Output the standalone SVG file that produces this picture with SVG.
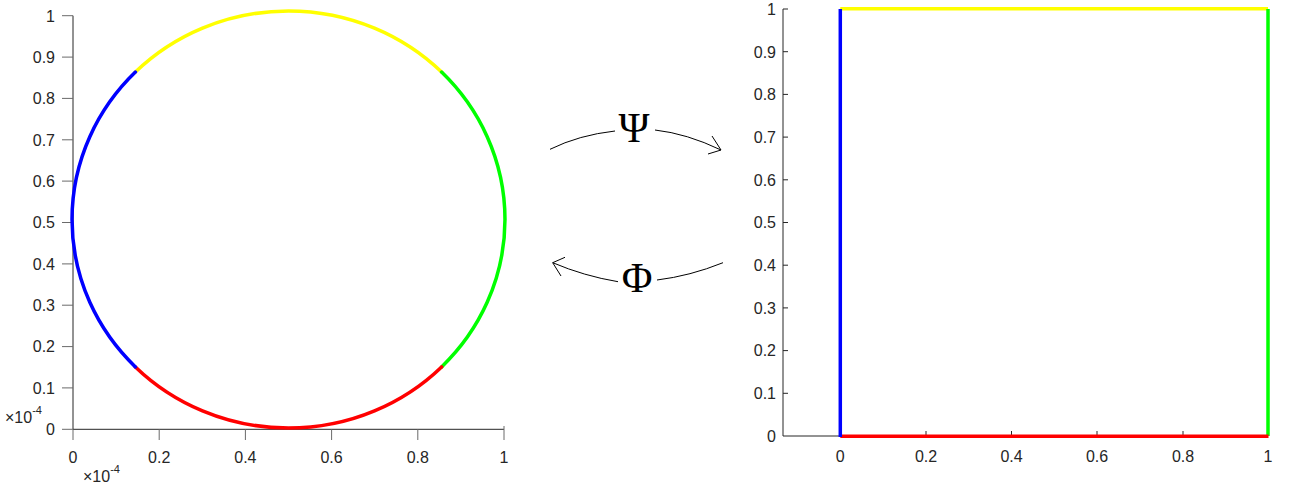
<svg xmlns="http://www.w3.org/2000/svg" width="1291" height="497" viewBox="0 0 1291 497">
<style>
.bg{fill:#ffffff}
.tl{font-family:"Liberation Sans",Arial,sans-serif;font-size:16px;fill:#262626}
.yl{text-anchor:end}
.xl{text-anchor:middle}
.sup{font-size:11px}
.axis{stroke:#262626;stroke-width:1;fill:none}
.tick{stroke:#6a6a6a;stroke-width:1;fill:none}
.rtick{stroke:#262626;stroke-width:1;fill:none}
.curve{fill:none;stroke-width:3.5;stroke-linecap:round}
.edge{fill:none;stroke-width:3.5;stroke-linecap:butt}
.conn{fill:none;stroke:#000;stroke-width:1}
.greek{font-family:"Liberation Serif","Times New Roman",serif;font-size:42px;fill:#000;text-anchor:middle}
</style>
<rect class="bg" x="0" y="0" width="1291" height="497"/>

<g id="left-axes">
  <path class="axis" d="M73,15.7 V429.3 H504"/>
  <path class="tick" d="M62,15.7H73 M62,57.1H73 M62,98.4H73 M62,139.8H73 M62,181.1H73 M62,222.5H73 M62,263.9H73 M62,305.2H73 M62,346.6H73 M62,387.9H73 M62,429.3H73"/>
  <path class="tick" d="M73,429.3V440 M159.2,429.3V440 M245.4,429.3V440 M331.6,429.3V440 M417.8,429.3V440 M504,426V440"/>
  <g class="tl yl">
    <text x="55" y="21.5">1</text>
    <text x="55" y="62.9">0.9</text>
    <text x="55" y="104.2">0.8</text>
    <text x="55" y="145.6">0.7</text>
    <text x="55" y="186.9">0.6</text>
    <text x="55" y="228.3">0.5</text>
    <text x="55" y="269.7">0.4</text>
    <text x="55" y="311">0.3</text>
    <text x="55" y="352.4">0.2</text>
    <text x="55" y="393.7">0.1</text>
    <text x="55" y="435.1">0</text>
  </g>
  <g class="tl xl">
    <text x="73" y="463">0</text>
    <text x="159.2" y="463">0.2</text>
    <text x="245.4" y="463">0.4</text>
    <text x="331.6" y="463">0.6</text>
    <text x="417.8" y="463">0.8</text>
    <text x="504" y="463">1</text>
  </g>
  <text class="tl" x="5" y="423">×10<tspan class="sup" dy="-9">-4</tspan></text>
  <text class="tl" x="83" y="482">×10<tspan class="sup" dy="-9">-4</tspan></text>
</g>

<g id="left-circle">
  <path class="curve" stroke="#ffff00" d="M135.4,72.1 A216.5,208.5 0 0 1 441.6,72.1"/>
  <path class="curve" stroke="#00ff00" d="M441.6,72.1 A216.5,208.5 0 0 1 441.6,366.9"/>
  <path class="curve" stroke="#ff0000" d="M441.6,366.9 A216.5,208.5 0 0 1 135.4,366.9"/>
  <path class="curve" stroke="#0000ff" d="M135.4,366.9 A216.5,208.5 0 0 1 135.4,72.1"/>
</g>

<g id="right-axes">
  <path class="axis" d="M783,9 V436 H1268"/>
  <path class="rtick" d="M783,9H788 M783,51.7H788 M783,94.4H788 M783,137.1H788 M783,179.8H788 M783,222.5H788 M783,265.2H788 M783,307.9H788 M783,350.6H788 M783,393.3H788"/>
  <path class="rtick" d="M926,436V431 M1011.5,436V431 M1097,436V431 M1183,436V431"/>
  <g class="tl yl">
    <text x="776" y="14.8">1</text>
    <text x="776" y="57.5">0.9</text>
    <text x="776" y="100.2">0.8</text>
    <text x="776" y="142.9">0.7</text>
    <text x="776" y="185.6">0.6</text>
    <text x="776" y="228.3">0.5</text>
    <text x="776" y="271">0.4</text>
    <text x="776" y="313.7">0.3</text>
    <text x="776" y="356.4">0.2</text>
    <text x="776" y="399.1">0.1</text>
    <text x="776" y="441.8">0</text>
  </g>
  <g class="tl xl">
    <text x="840.3" y="462">0</text>
    <text x="926" y="462">0.2</text>
    <text x="1011.5" y="462">0.4</text>
    <text x="1097" y="462">0.6</text>
    <text x="1183" y="462">0.8</text>
    <text x="1268" y="462">1</text>
  </g>
</g>

<g id="right-square">
  <path class="edge" stroke="#ffff00" d="M840.3,8.8 H1268"/>
  <path class="edge" stroke="#00ff00" d="M1268,9 V436"/>
  <path class="edge" stroke="#ff0000" d="M840.3,436.3 H1268.5"/>
  <path class="edge" stroke="#0000ff" d="M840.3,9 V437"/>
</g>

<g id="connectors">
  <g id="psi-arrow">
    <path class="conn" d="M550,149.3 Q579,135 615,131"/>
    <path class="conn" d="M655,130 Q687,133.6 721,150"/>
    <polyline class="conn" points="712,136 721,150 708,154"/>
    <text class="greek" x="634" y="142">Ψ</text>
  </g>
  <g id="phi-arrow">
    <path class="conn" d="M723,262.7 Q690,276 657,280"/>
    <path class="conn" d="M618,281.7 Q584,276 552.7,262.7"/>
    <polyline class="conn" points="565,257.3 552.7,262.7 561,276"/>
    <text class="greek" x="637" y="292">Φ</text>
  </g>
</g>
</svg>
